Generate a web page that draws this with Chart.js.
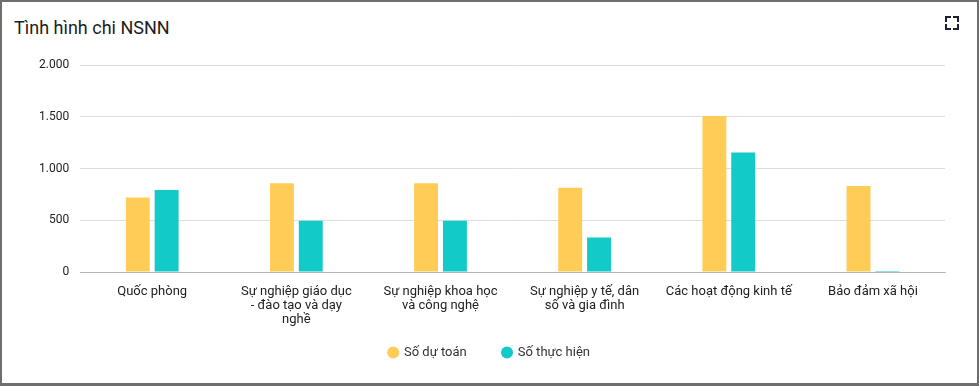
<!DOCTYPE html>
<html>
<head>
<meta charset="utf-8">
<script src="https://cdn.jsdelivr.net/npm/chart.js@4.4.0/dist/chart.umd.min.js"></script>
<style>
	html, body { margin: 0; padding: 0; background: #fff; }
	#box {
		position: relative; width: 979px; height: 386px; box-sizing: border-box;
		border: 2px solid #6e6e6e; border-bottom-width: 3px; background: #fff;
		font-family: Roboto, "Noto Sans", sans-serif;
	}
	#title { position: absolute; left: 12px; top: 15px; font-size: 18px; color: #1d1d1d; }
	#expand { position: absolute; left: 943px; top: 14px; width: 14px; height: 14px; }
	#expand span { position: absolute; width: 4px; height: 4px; border-color: #1a2233; border-style: solid; }
	#wrap { position: absolute; left: 0; top: 38px; width: 975px; height: 343px; }
</style>
</head>
<body>
<div id="box">
	<div id="title">Tình hình chi NSNN</div>
	<div id="expand">
		<span style="left:0;top:0;border-width:2px 0 0 2px"></span>
		<span style="right:0;top:0;border-width:2px 2px 0 0"></span>
		<span style="left:0;bottom:0;border-width:0 0 2px 2px"></span>
		<span style="right:0;bottom:0;border-width:0 2px 2px 0"></span>
	</div>
	<div id="wrap"><canvas id="chart"></canvas></div>
</div>
<script>
// Dữ liệu
var categories = [
	"Quốc phòng",
	["Sự nghiệp giáo dục", "- đào tạo và dạy", "nghề"],
	["Sự nghiệp khoa học", "và công nghệ"],
	["Sự nghiệp y tế, dân", "số và gia đình"],
	"Các hoạt động kinh tế",
	"Bảo đảm xã hội"
];
var duToan = [721, 857, 857, 815, 1508, 832];
var thucHien = [793, 495, 495, 333, 1155, 10];
var yTicks = [0, 500, 1000, 1500, 2000];

// legend hơi lệch phải so với tâm
var legendShift = {
	id: 'legendShift',
	afterLayout: function(chart) {
		chart.legend.left += 3;
		chart.legend.right += 3;
	}
};

window.onload = function() {
	var ctx = document.getElementById('chart').getContext('2d');
	var chart = new Chart(ctx, {
		type: 'bar',
		data: {
			labels: categories,
			datasets: [{
				label: 'Số dự toán',
				backgroundColor: '#ffcd56',
				data: duToan
			}, {
				label: 'Số thực hiện',
				backgroundColor: '#12cbc8',
				data: thucHien
			}]
		},
		plugins: [legendShift],
		options: {
			responsive: true,
			maintainAspectRatio: false,
			animation: false,
			categoryPercentage: 0.4,
			barPercentage: 0.83,
			layout: { padding: { left: 26, right: 32, top: 25, bottom: 14 } },
			plugins: {
				legend: {
					position: 'bottom',
					labels: {
						usePointStyle: true,
						pointStyle: 'circle',
						boxWidth: 8.5,
						boxHeight: 8.5,
						padding: 7,
						color: '#333',
						font: { family: 'Roboto', size: 13 },
						// thêm khoảng cách giữa 2 mục
						generateLabels: function(chart) {
							var items = Chart.defaults.plugins.legend.labels.generateLabels(chart);
							items[0].text = items[0].text + '         ';
							return items;
						}
					}
				},
				tooltip: { enabled: false }
			},
			scales: {
				x: {
					grid: { display: false, drawTicks: false },
					border: { color: '#b5b5b5' },
					ticks: {
						maxRotation: 0,
						autoSkip: false,
						padding: 12,
						color: '#222',
						font: { family: 'Roboto', size: 13, lineHeight: 1.1 }
					}
				},
				y: {
					min: 0,
					max: 2000,
					afterBuildTicks: function(axis) {
						axis.ticks = yTicks.map(function(v) { return { value: v }; });
					},
					grid: { color: '#dedede', drawTicks: false },
					border: { display: false },
					ticks: {
						padding: 11,
						color: '#222',
						font: { family: 'Roboto', size: 12 },
						callback: function(v) { return v.toLocaleString('de-DE'); }
					}
				}
			}
		}
	});
}
</script>
</body>
</html>
